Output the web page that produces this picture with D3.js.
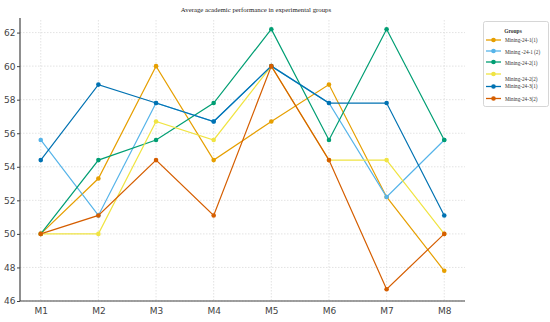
<!DOCTYPE html>
<html lang="en">
<head>
    <meta charset="UTF-8">
    <title>Average academic performance</title>
    <script src="https://d3js.org/d3.v7.min.js"></script>
    <style>
        body {
            margin: 0;
            padding: 0;
            background-color: #fff;
        }
        #chart {
            display: block;
        }
    </style>
</head>
<body>
    <svg id="chart" width="550" height="322"></svg>
    <script>
        // data
        var months = ["M1", "M2", "M3", "M4", "M5", "M6", "M7", "M8"];
        var groups = ["Mining-24-1(1)", "Mining -24-1 (2)", "Mining-24-2(1)",
            "Mining-24-2(2)", "Mining-24-3(1)", "Mining-24-3(2)"];
        var colors = ["#E69F00", "#56B4E9", "#009E73", "#F0E442", "#0072B2", "#D55E00"];
        var g1a = [50, 53.3, 60, 54.4, 56.7, 58.9, 52.2, 47.8];
        var g1b = [55.6, 51.1, 57.8, 56.7, 60, 57.8, 52.2, 55.6];
        var g2a = [50, 54.4, 55.6, 57.8, 62.2, 55.6, 62.2, 55.6];
        var g2b = [50, 50, 56.7, 55.6, 60, 54.4, 54.4, 50];
        var g3a = [54.4, 58.9, 57.8, 56.7, 60, 57.8, 57.8, 51.1];
        var g3b = [50, 51.1, 54.4, 51.1, 60, 54.4, 46.7, 50];
        var yTicks = [46, 48, 50, 52, 54, 56, 58, 60, 62];

        var seriesData = [g1a, g1b, g2a, g2b, g3a, g3b];

        var svg = d3.select("#chart");
        var plotLeft = 20, plotRight = 465, plotTop = 20, plotBottom = 301;

        var x = d3.scalePoint().domain(months).range([plotLeft, plotRight]).padding(0.36);
        var y = d3.scaleLinear().domain([46, 62.75]).range([plotBottom, plotTop]);

        // title
        svg.append("text")
            .attr("x", 256).attr("y", 11.5)
            .attr("text-anchor", "middle")
            .attr("font-family", "Liberation Serif, serif")
            .attr("font-size", 6.8)
            .attr("fill", "#222")
            .text("Average academic performance in experimental groups");

        // grid
        svg.append("g").selectAll("line").data(yTicks).enter().append("line")
            .attr("x1", plotLeft).attr("x2", plotRight)
            .attr("y1", d => y(d)).attr("y2", d => y(d))
            .attr("stroke", "#dcdcdc").attr("stroke-width", 0.8)
            .attr("stroke-dasharray", "1.5,1.5");
        svg.append("g").selectAll("line").data(months).enter().append("line")
            .attr("x1", d => x(d)).attr("x2", d => x(d))
            .attr("y1", plotTop).attr("y2", plotBottom)
            .attr("stroke", "#dcdcdc").attr("stroke-width", 0.8)
            .attr("stroke-dasharray", "1.5,1.5");

        // axes
        var yAxis = svg.append("g")
            .attr("transform", "translate(" + plotLeft + ",0)")
            .call(d3.axisLeft(y).tickValues(yTicks).tickSize(3).tickPadding(1.5));
        var xAxis = svg.append("g")
            .attr("transform", "translate(0," + plotBottom + ")")
            .call(d3.axisBottom(x).tickSize(0).tickPadding(7));

        [yAxis, xAxis].forEach(function (ax) {
            ax.select(".domain").remove();
            ax.selectAll("line").attr("stroke", "#444");
            ax.selectAll("text")
                .attr("font-family", "DejaVu Sans, sans-serif")
                .attr("font-size", 9)
                .attr("fill", "#444");
        });

        svg.append("line")
            .attr("x1", plotLeft).attr("x2", plotLeft).attr("y1", plotTop - 2).attr("y2", plotBottom)
            .attr("stroke", "#444").attr("stroke-width", 1.2);
        svg.append("line")
            .attr("x1", plotLeft).attr("x2", plotRight).attr("y1", plotBottom).attr("y2", plotBottom)
            .attr("stroke", "#444").attr("stroke-width", 1.2);

        // lines
        var line = d3.line()
            .x(function (d, i) { return x(months[i]); })
            .y(function (d) { return y(d); });

        seriesData.forEach(function (vals, k) {
            var g = svg.append("g");
            g.append("path")
                .attr("d", line(vals))
                .attr("fill", "none")
                .attr("stroke", colors[k])
                .attr("stroke-width", 1.2);
            g.selectAll("circle").data(vals).enter().append("circle")
                .attr("cx", (d, i) => x(months[i]))
                .attr("cy", d => y(d))
                .attr("r", 2.3)
                .attr("fill", colors[k]);
        });

        // legend
        var lg = svg.append("g");
        lg.append("rect")
            .attr("x", 483.5).attr("y", 21.5).attr("width", 65).attr("height", 85)
            .attr("rx", 2)
            .attr("fill", "#fff").attr("stroke", "#ccc").attr("stroke-width", 0.8);
        lg.append("text")
            .attr("x", 513).attr("y", 33)
            .attr("text-anchor", "middle")
            .attr("font-family", "Liberation Serif, serif")
            .attr("font-size", 5.5).attr("font-weight", "bold")
            .attr("fill", "#333")
            .text("Groups");

        var rowY = [40, 51, 62, 74, 86.5, 98.5];
        var textY = [40, 52, 63, 79, 86.5, 99];
        groups.forEach(function (name, k) {
            lg.append("line")
                .attr("x1", 486).attr("x2", 501)
                .attr("y1", rowY[k]).attr("y2", rowY[k])
                .attr("stroke", colors[k]).attr("stroke-width", 1.3);
            lg.append("circle")
                .attr("cx", 493.5).attr("cy", rowY[k]).attr("r", 2.3)
                .attr("fill", colors[k]);
            lg.append("text")
                .attr("x", 505).attr("y", textY[k] + 1.8)
                .attr("font-family", "Liberation Serif, serif")
                .attr("font-size", 5.2)
                .attr("fill", "#333")
                .text(name);
        });
    </script>
</body>
</html>
